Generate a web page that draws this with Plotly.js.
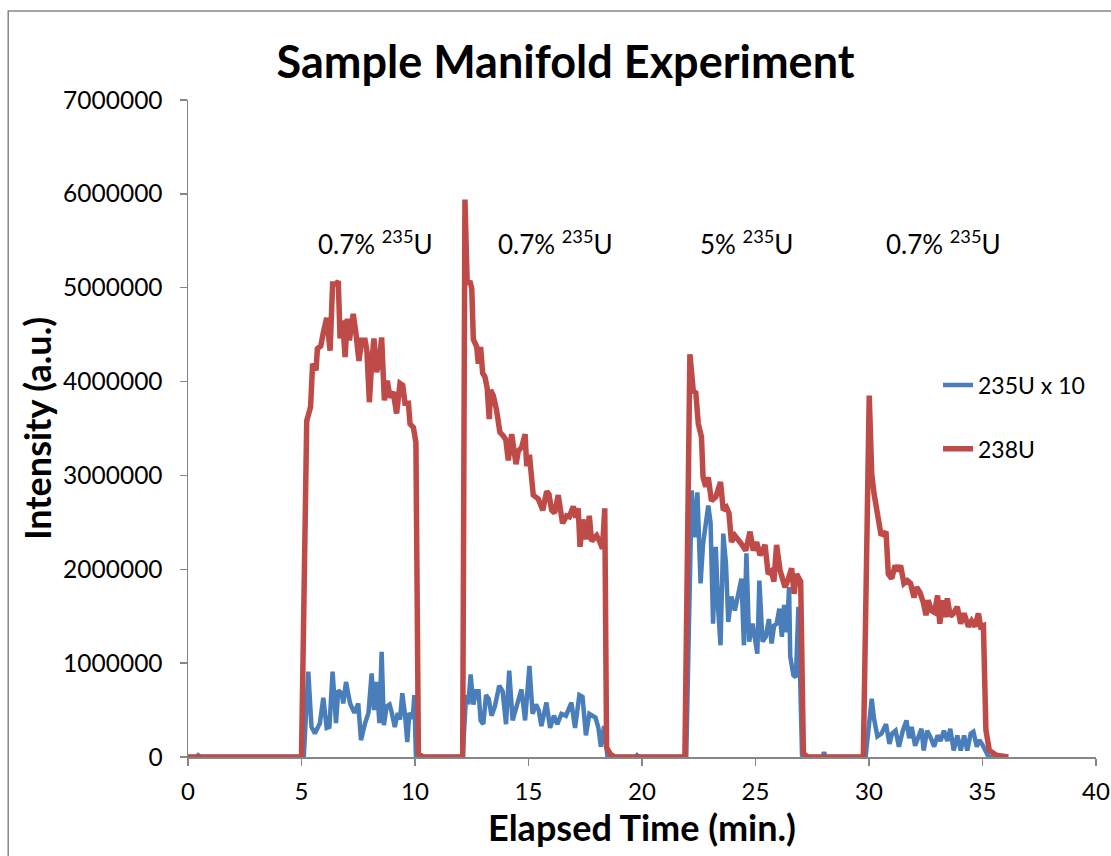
<!DOCTYPE html>
<html>
<head>
<meta charset="utf-8">
<script src="https://cdn.plot.ly/plotly-3.0.1.min.js"></script>
<style>html,body{margin:0;padding:0;background:#fff;}#chart{width:1111px;height:856px;}</style>
</head>
<body>
<div id="chart"></div>
<script>
// ---- Data ----
const seriesNames = ["235U x 10", "238U"];

const time235 = [0,0.35,0.45,0.55,5.10,5.30,5.44,5.59,5.81,5.96,6.11,6.23,6.37,6.52,6.62,6.77,6.84,6.96,7.14,7.33,7.50,7.62,7.80,7.95,8.09,8.19,8.31,8.43,8.53,8.63,8.75,8.88,8.97,9.11,9.24,9.34,9.44,9.56,9.66,9.75,9.90,9.97,10.04,
12.10,12.25,12.35,12.45,12.57,12.69,12.80,12.89,13.01,13.13,13.25,13.37,13.52,13.71,13.86,14.01,14.15,14.30,14.47,14.69,14.85,15.04,15.18,15.33,15.45,15.57,15.79,15.95,16.12,16.27,16.45,16.65,16.89,17.05,17.24,17.38,17.53,17.68,17.95,18.08,18.19,18.33,18.48,
19.70,19.78,19.86,
21.95,22.19,22.33,22.44,22.58,22.69,22.92,23.02,23.13,23.25,23.36,23.46,23.58,23.70,23.80,23.94,24.09,24.24,24.38,24.49,24.60,24.72,24.87,25.08,25.17,25.31,25.45,25.59,25.71,25.82,25.93,26.05,26.16,26.26,26.38,26.48,26.53,26.67,26.78,26.89,27.05,27.20,
27.95,28.02,28.10,
29.85,30.12,30.22,30.37,30.55,30.75,30.90,31.02,31.17,31.32,31.49,31.65,31.77,31.88,32.03,32.17,32.31,32.41,32.56,32.71,32.87,33.02,33.15,33.30,33.45,33.58,33.73,33.89,34.04,34.19,34.33,34.48,34.60,34.75,34.86,35.00,35.27,35.50];

const intensity235x10 = [0,0,20000,0,0,910000,320000,250000,360000,630000,310000,320000,910000,360000,710000,680000,570000,800000,570000,470000,570000,180000,360000,470000,890000,500000,800000,360000,1120000,340000,540000,560000,480000,320000,470000,400000,680000,450000,160000,470000,410000,660000,0,
0,660000,560000,880000,560000,700000,700000,390000,350000,660000,620000,440000,540000,760000,700000,350000,920000,390000,540000,720000,390000,970000,460000,560000,500000,330000,580000,310000,440000,350000,460000,440000,580000,310000,660000,640000,230000,460000,420000,310000,110000,330000,0,
0,20000,0,
0,2840000,2340000,2820000,1850000,2270000,2680000,2500000,1420000,2240000,1560000,1190000,2380000,2060000,1440000,1710000,1560000,1710000,1900000,1190000,2170000,1230000,1420000,1100000,1880000,1230000,1280000,1470000,1210000,1400000,1420000,1580000,1280000,1620000,1330000,1810000,1070000,870000,850000,1600000,20000,0,
0,50000,0,
0,620000,410000,220000,250000,350000,140000,250000,280000,110000,280000,390000,200000,320000,120000,230000,300000,70000,280000,210000,110000,230000,170000,280000,170000,300000,70000,230000,70000,230000,70000,250000,270000,110000,180000,130000,0,0];

const time238 = [0,5.0,5.23,5.40,5.49,5.64,5.70,5.85,5.96,6.11,6.26,6.37,6.52,6.62,6.70,6.81,6.92,7.02,7.11,7.21,7.28,7.40,7.53,7.65,7.80,7.88,7.99,8.09,8.19,8.31,8.43,8.53,8.65,8.78,8.90,9.04,9.19,9.34,9.46,9.56,9.71,9.78,9.93,10.04,10.15,10.35,
12.10,12.20,12.30,12.42,12.50,12.57,12.72,12.79,12.89,12.98,13.08,13.18,13.27,13.33,13.45,13.59,13.74,13.89,14.00,14.11,14.26,14.45,14.55,14.70,14.85,14.92,15.04,15.21,15.43,15.63,15.80,15.90,16.02,16.15,16.31,16.50,16.68,16.80,16.97,17.08,17.19,17.27,17.39,17.53,17.68,17.78,17.90,18.00,18.13,18.26,18.36,18.44,18.60,18.80,
21.89,22.11,22.26,22.37,22.48,22.62,22.69,22.81,22.92,23.06,23.25,23.46,23.58,23.72,23.83,23.94,24.09,24.24,24.38,24.57,24.76,24.90,25.05,25.20,25.42,25.56,25.70,25.81,25.93,26.08,26.30,26.45,26.59,26.70,26.81,26.99,27.11,27.30,
29.75,30.01,30.12,30.22,30.37,30.52,30.63,30.75,30.85,31.00,31.15,31.27,31.39,31.54,31.69,31.83,31.98,32.10,32.25,32.39,32.51,32.61,32.75,32.89,33.02,33.12,33.24,33.35,33.45,33.58,33.72,33.89,34.04,34.19,34.38,34.52,34.67,34.82,34.92,35.04,35.15,35.30,35.60,36.14];

const intensity238 = [0,0,3580000,3730000,4190000,4120000,4350000,4380000,4520000,4680000,4330000,5040000,5040000,5070000,4460000,4650000,4260000,4670000,4440000,4680000,4720000,4510000,4220000,4440000,4440000,4330000,3780000,4190000,4460000,4100000,4220000,4470000,3800000,4010000,3830000,3890000,3660000,3980000,3960000,3770000,3770000,3550000,3510000,3350000,40000,0,
0,5940000,5040000,5070000,4990000,4450000,4370000,4190000,4370000,4090000,4050000,3930000,3600000,3910000,3850000,3700000,3460000,3420000,3380000,3160000,3440000,3120000,3260000,3300000,3440000,3100000,3220000,2790000,2750000,2630000,2830000,2800000,2630000,2600000,2790000,2490000,2570000,2560000,2670000,2550000,2650000,2240000,2530000,2320000,2570000,2300000,2330000,2360000,2300000,2220000,2650000,100000,30000,0,
0,4290000,3900000,3880000,3550000,3410000,2980000,2880000,2980000,2730000,2770000,2930000,2630000,2660000,2600000,2290000,2360000,2300000,2270000,2200000,2400000,2200000,2290000,2150000,2260000,1950000,1980000,1870000,2260000,1990000,1810000,1900000,2010000,1740000,1950000,1870000,40000,0,
0,3850000,3020000,2810000,2590000,2380000,2370000,2400000,1950000,1900000,2040000,1980000,2040000,1850000,1880000,1850000,1700000,1810000,1750000,1650000,1510000,1670000,1560000,1540000,1720000,1420000,1670000,1490000,1690000,1500000,1530000,1600000,1420000,1530000,1390000,1450000,1390000,1530000,1390000,1400000,290000,70000,20000,0];

const sampleLabels = ["0.7% <sup>235</sup>U", "0.7% <sup>235</sup>U", "5% <sup>235</sup>U", "0.7% <sup>235</sup>U"];
const labelTimes = [8.25, 16.2, 24.6, 33.3];
const labelHeight = 5480000;

const xTicks = [0,5,10,15,20,25,30,35,40];
const yTicks = [0,1000000,2000000,3000000,4000000,5000000,6000000,7000000];

// ---- Chart ----
const FONT = "Lato, 'Open Sans', sans-serif";
const AXIS_GRAY = "#868686";

const traces = [
  {x: time235, y: intensity235x10, name: seriesNames[0], type: "scatter", mode: "lines",
   line: {color: "#4A7EBB", width: 4.5, shape: "linear"}, legendgroup: "a"},
  {x: time238, y: intensity238, name: seriesNames[1], type: "scatter", mode: "lines",
   line: {color: "#BE4B48", width: 5.5, shape: "linear"}, legendgroup: "b"}
];

const annotations = sampleLabels.map((t, i) => ({
  x: labelTimes[i], y: labelHeight, xref: "x", yref: "y", text: t, showarrow: false,
  font: {family: FONT, size: 26, color: "#000"}
}));

const layout = {
  width: 1111, height: 856,
  margin: {l: 188, r: 15, t: 100, b: 99, pad: 0},
  paper_bgcolor: "#fff", plot_bgcolor: "#fff",
  font: {family: FONT, color: "#000"},
  title: {text: "<b>Sample Manifold Experiment</b>", font: {family: FONT, size: 45, color: "#000"},
          x: 0.509, xanchor: "center", y: 0.927, yanchor: "middle"},
  xaxis: {range: [0, 40], tickvals: xTicks, ticktext: xTicks.map(String),
          showgrid: false, zeroline: false, showline: true, linecolor: AXIS_GRAY, linewidth: 1.5,
          ticks: "outside", ticklen: 7, tickcolor: AXIS_GRAY, tickwidth: 1.5, ticklabelstandoff: 6,
          tickfont: {family: FONT, size: 24, color: "#000"},
          title: {text: "<b>Elapsed Time (min.)</b>", font: {family: FONT, size: 36, color: "#000"}, standoff: 8}},
  yaxis: {range: [0, 7000000], tickvals: yTicks, ticktext: yTicks.map(String),
          showgrid: false, zeroline: false, showline: true, linecolor: AXIS_GRAY, linewidth: 1.5,
          ticks: "outside", ticklen: 7, tickcolor: AXIS_GRAY, tickwidth: 1.5, ticklabelstandoff: 12,
          tickfont: {family: FONT, size: 24.5, color: "#000"},
          title: {text: "<b>Intensity (a.u.)</b>", font: {family: FONT, size: 36, color: "#000"}, standoff: 0}},
  legend: {x: 0.826, y: 0.599, xanchor: "left", yanchor: "top", traceorder: "grouped", tracegroupgap: 31,
           font: {family: FONT, size: 23, color: "#000"}, bgcolor: "rgba(0,0,0,0)"},
  annotations: annotations,
  shapes: [{type: "rect", xref: "paper", yref: "paper", x0: -0.198, x1: 1.3, y0: -0.3, y1: 1.1355,
            line: {color: AXIS_GRAY, width: 1.5}, fillcolor: "rgba(0,0,0,0)", layer: "below"}],
  showlegend: true
};

Plotly.newPlot("chart", traces, layout, {displayModeBar: false, staticPlot: true});
</script>
</body>
</html>
